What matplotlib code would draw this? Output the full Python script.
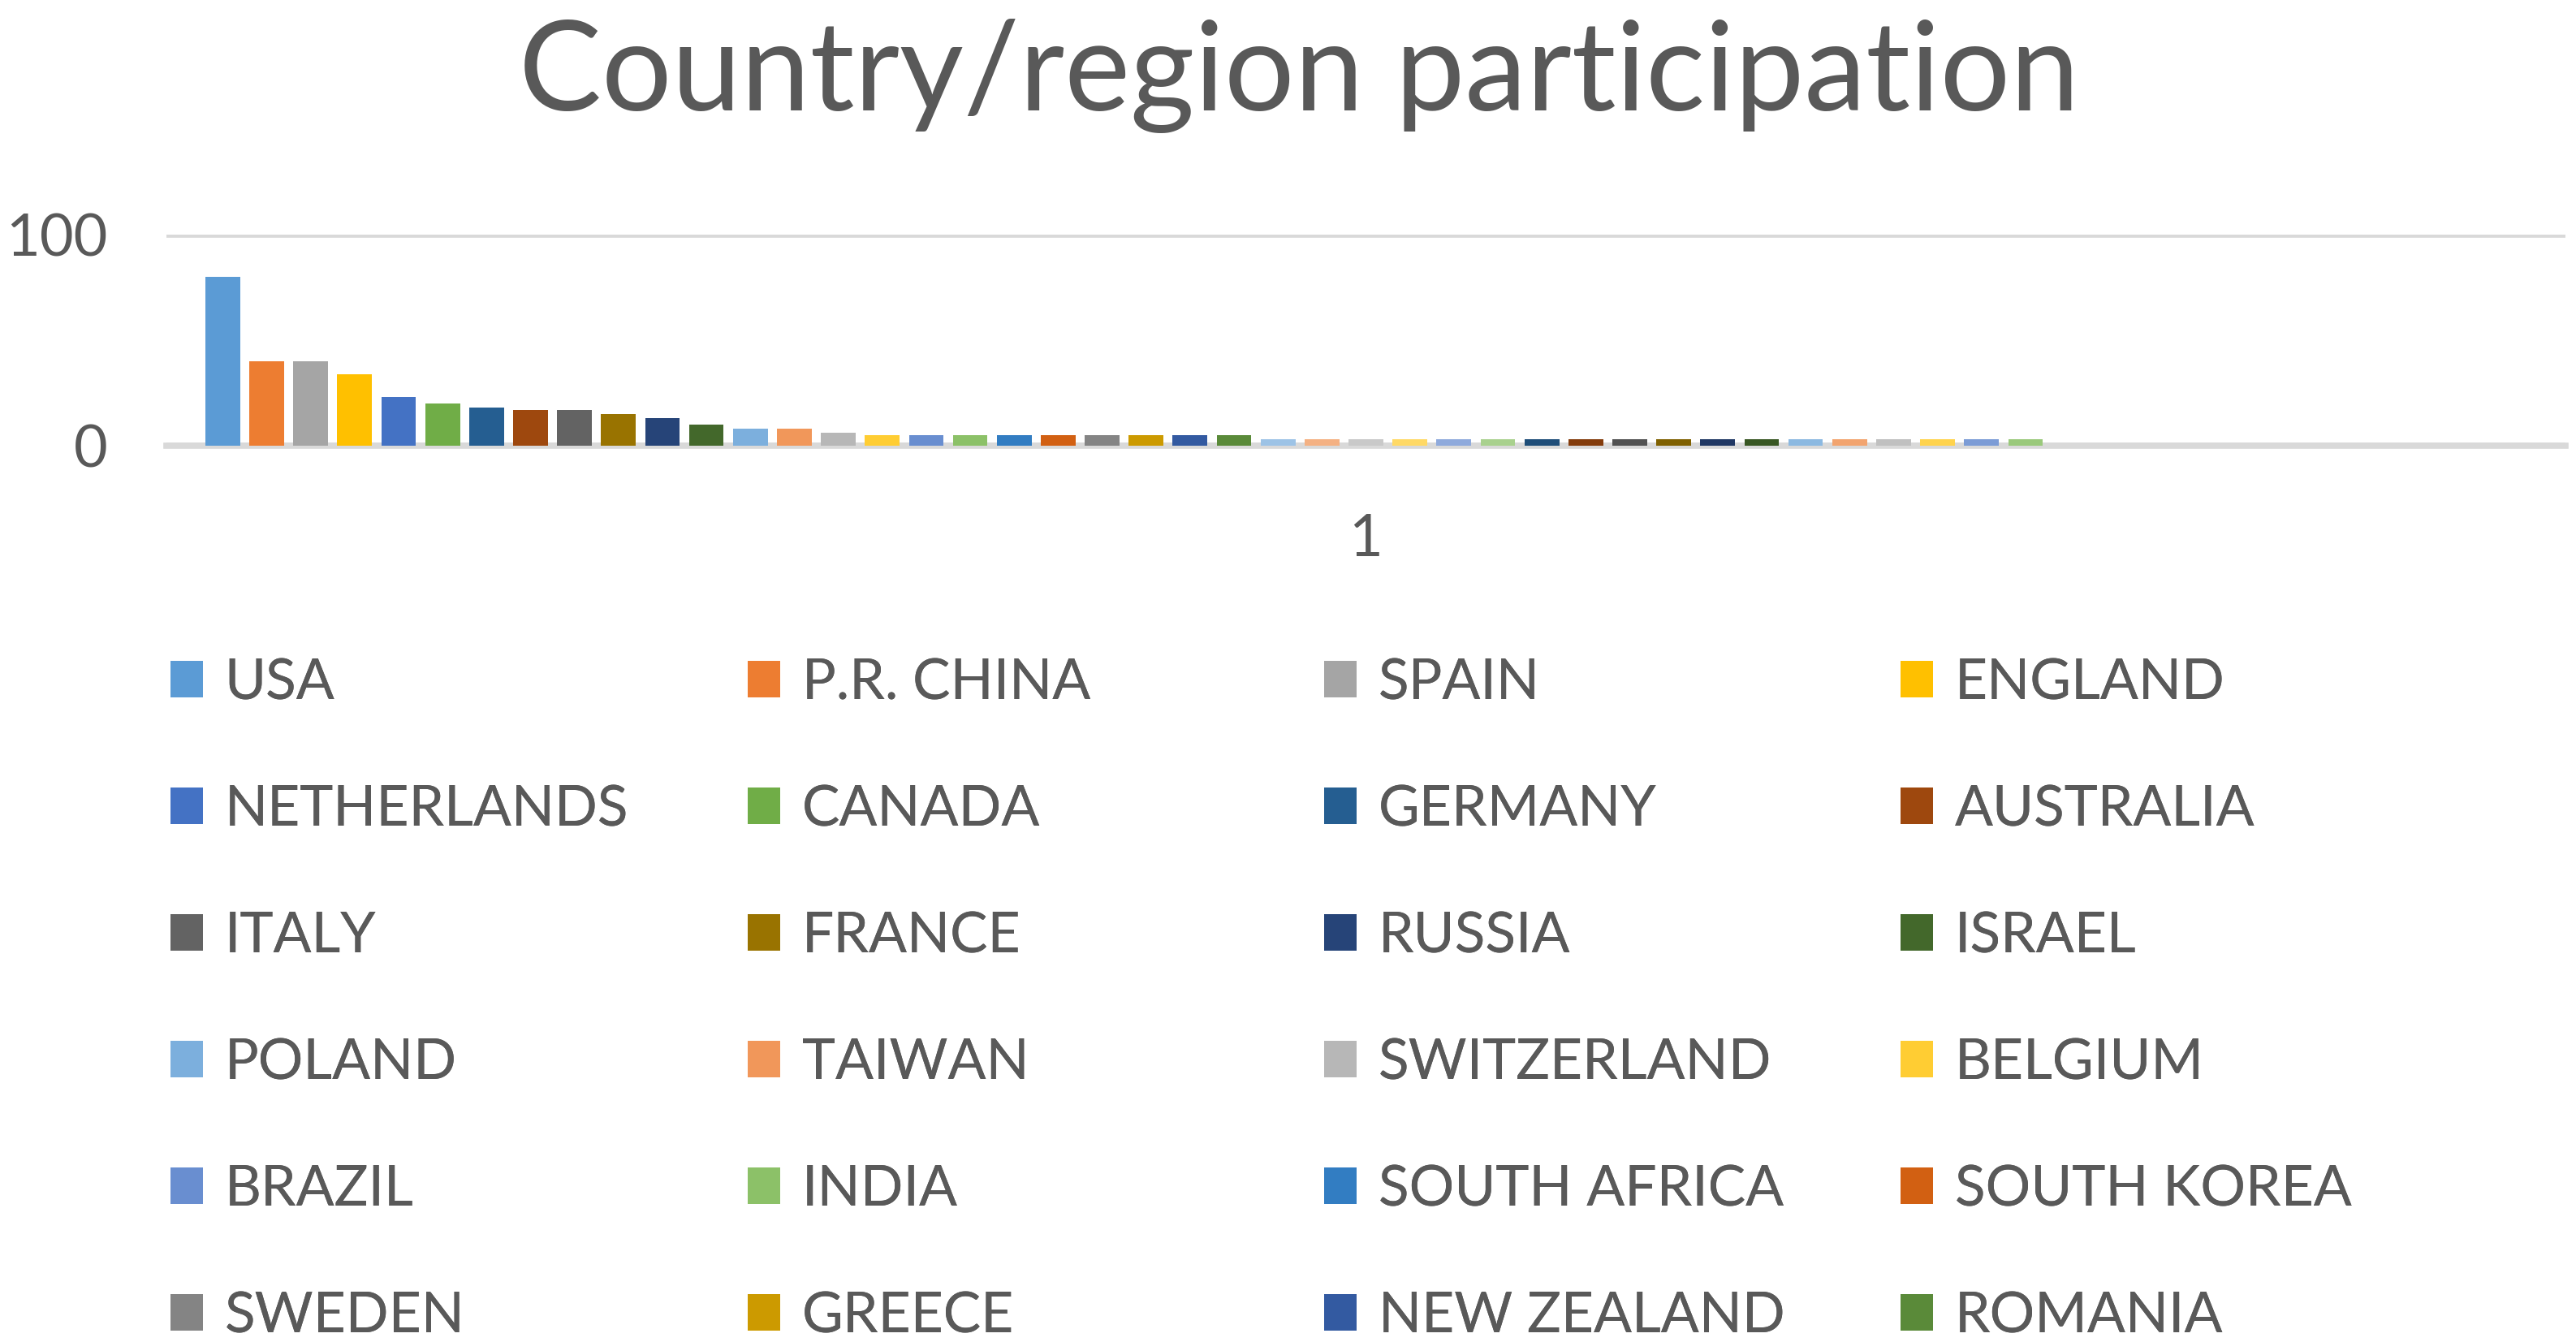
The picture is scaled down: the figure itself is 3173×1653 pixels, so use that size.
import matplotlib
matplotlib.use("Agg")
import matplotlib.pyplot as plt
from matplotlib.patches import Patch

# ---------------- data ----------------
title = "Country/region participation"
category_label = "1"
countries = ["USA", "P.R. CHINA", "SPAIN", "ENGLAND",
             "NETHERLANDS", "CANADA", "GERMANY", "AUSTRALIA",
             "ITALY", "FRANCE", "RUSSIA", "ISRAEL",
             "POLAND", "TAIWAN", "SWITZERLAND", "BELGIUM",
             "BRAZIL", "INDIA", "SOUTH AFRICA", "SOUTH KOREA",
             "SWEDEN", "GREECE", "NEW ZEALAND", "ROMANIA"]
# all 42 visible bars (the legend in the image is cut off after 24 entries)
values = [80, 40, 40, 34, 23, 20, 18, 17, 17, 15, 13, 10,
          8, 8, 6, 5, 5, 5, 5, 5, 5, 5, 5, 5,
          3, 3, 3, 3, 3, 3, 3, 3, 3, 3, 3, 3,
          3, 3, 3, 3, 3, 3]
n_slots = 53          # series slots in the cluster (the rest are empty)
y_ticks = [0, 100]

# Office palette cycle
colors = ["#5B9BD5", "#ED7D31", "#A5A5A5", "#FFC000", "#4472C4", "#70AD47",
          "#255E91", "#9E480E", "#636363", "#997300", "#264478", "#43682B",
          "#7CAFDD", "#F1975A", "#B7B7B7", "#FFCD33", "#698ED0", "#8CC168",
          "#327DC2", "#D26012", "#848484", "#CC9A00", "#335AA1", "#5A8A39",
          "#9DC3E6", "#F4B183", "#C9C9C9", "#FFD966", "#8FAADC", "#A9D18E",
          "#1F4E79", "#843C0C", "#525252", "#7F6000", "#203864", "#385723",
          "#8CB9E1", "#F2A46F", "#C0C0C0", "#FFD34D", "#7C9CD6", "#9AC97B"]

TEXT = "#595959"
GRID = "#D9D9D9"
plt.rcParams["font.family"] = ["Lato", "DejaVu Sans"]

W, H = 3173, 1653
fig = plt.figure(figsize=(W / 100, H / 100), dpi=100)
fig.patch.set_facecolor("white")

ax = fig.add_axes([205 / W, 1 - 549 / H, (3160 - 205) / W, (549 - 289) / H])
ax.set_facecolor("white")

for i, v in enumerate(values):
    ax.bar(i, v, width=0.79, color=colors[i], zorder=3)

pad = 1.28
ax.set_xlim(-pad, (n_slots - 1) + pad)
ax.set_ylim(0, 100)
ax.set_yticks(y_ticks)
ax.set_yticklabels([str(t) for t in y_ticks])
ax.set_xticks([(n_slots - 1) / 2])
ax.set_xticklabels([category_label])
ax.tick_params(axis="y", length=0, pad=52, labelsize=52, labelcolor=TEXT)
ax.tick_params(axis="x", length=0, pad=60, labelsize=52, labelcolor=TEXT)
for s in ax.spines.values():
    s.set_visible(False)
ax.grid(axis="y", color=GRID, linewidth=5.5, zorder=0)
ax.set_axisbelow(True)
ax.axhline(0, color=GRID, linewidth=5.5, zorder=2, clip_on=False)

fig.text(1600 / W, 1 - 136 / H, title, ha="center", va="baseline",
         fontsize=110, color=TEXT)

# legend: 4 columns, row-major order like Excel
col_x = [210, 921, 1631, 2341]
fs = 50
for c in range(4):
    idx = list(range(c, len(countries), 4))
    handles = [Patch(facecolor=colors[k], edgecolor="none") for k in idx]
    labels = [countries[k] for k in idx]
    leg = fig.legend(handles, labels, loc="upper left",
                     bbox_to_anchor=(col_x[c] / W, 1 - 810 / H),
                     frameon=False, fontsize=fs, labelcolor=TEXT,
                     handlelength=0.58, handleheight=0.62, handletextpad=0.38,
                     labelspacing=1.34, borderpad=0, borderaxespad=0)
    fig.add_artist(leg)

fig.savefig("out.png", dpi=100, facecolor="white")
